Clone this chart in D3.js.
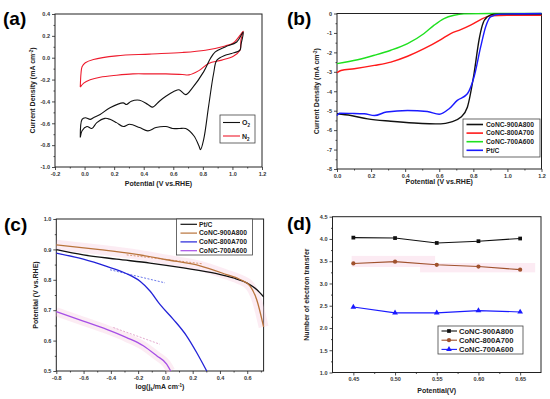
<!DOCTYPE html>
<html>
<head>
<meta charset="utf-8">
<script src="https://cdn.jsdelivr.net/npm/d3@7"></script>
<style>
  body { margin: 0; background: #fff; }
  text { font-family: "Liberation Sans", Arial, sans-serif; }
</style>
</head>
<body>
<svg id="fig" width="550" height="399"></svg>
<script>
// ---- (a) CV in O2 / N2, [potential V, current mA cm-2], closed loops
const cvO2 = [
  [-0.029,-0.730],[-0.017,-0.564],[0.005,-0.549],[0.038,-0.564],[0.060,-0.549],[0.105,-0.519],
  [0.172,-0.458],[0.261,-0.413],[0.283,-0.428],[0.316,-0.398],[0.372,-0.389],[0.428,-0.428],
  [0.461,-0.452],[0.506,-0.398],[0.550,-0.353],[0.606,-0.308],[0.639,-0.293],[0.684,-0.338],
  [0.728,-0.278],[0.806,-0.127],[0.851,-0.007],[0.884,0.054],[0.951,0.099],[1.029,0.144],
  [1.073,0.234],[1.058,0.120],[1.051,0.069],[0.995,0.039],[0.951,0.023],[0.895,-0.022],
  [0.873,-0.142],[0.839,-0.443],[0.806,-0.745],[0.784,-0.841],[0.773,-0.805],[0.739,-0.714],
  [0.684,-0.648],[0.639,-0.648],[0.595,-0.648],[0.550,-0.630],[0.483,-0.639],[0.428,-0.669],
  [0.372,-0.639],[0.305,-0.609],[0.261,-0.630],[0.216,-0.594],[0.172,-0.564],[0.138,-0.555],
  [0.083,-0.594],[0.049,-0.648],[0.016,-0.630],[-0.017,-0.669],[-0.029,-0.730]
];
const cvN2 = [
  [-0.029,-0.269],[-0.024,-0.142],[-0.017,-0.082],[0.005,-0.046],[0.060,-0.016],[0.216,0.017],
  [0.439,0.033],[0.661,0.048],[0.817,0.069],[0.951,0.108],[1.006,0.135],[1.051,0.204],
  [1.073,0.243],[1.058,0.165],[1.051,0.069],[1.006,0.014],[0.928,-0.022],[0.839,-0.052],
  [0.773,-0.118],[0.706,-0.157],[0.661,-0.154],[0.550,-0.148],[0.439,-0.148],[0.327,-0.148],
  [0.216,-0.160],[0.105,-0.178],[0.038,-0.202],[-0.006,-0.232],[-0.029,-0.269]
];

// ---- (b) LSV curves, [potential V, current mA cm-2]
const lsvNames = ["CoNC-900A800", "CoNC-800A700", "CoNC-700A600", "Pt/C"];
const lsv900 = [[0,-5.16],[0.082,-5.25],[0.18,-5.42],[0.316,-5.54],[0.453,-5.63],[0.609,-5.68],
  [0.667,-5.59],[0.726,-5.34],[0.765,-4.82],[0.804,-3.10],[0.833,-1.38],[0.853,-0.60],
  [0.882,-0.17],[0.921,-0.03],[1.2,-0.03]];
const lsv800 = [[0,-3.05],[0.023,-2.93],[0.101,-2.84],[0.219,-2.67],[0.316,-2.50],[0.414,-2.20],
  [0.511,-1.81],[0.609,-1.34],[0.667,-1.03],[0.726,-0.83],[0.784,-0.60],[0.843,-0.31],
  [0.901,-0.12],[0.999,-0.09],[1.2,-0.09]];
const lsv700 = [[0,-2.58],[0.121,-2.38],[0.219,-2.15],[0.316,-1.89],[0.414,-1.55],[0.511,-1.03],
  [0.570,-0.60],[0.628,-0.26],[0.687,-0.09],[0.745,-0.02],[0.9,0],[1.2,0]];
const lsvPt = [[0,-5.25],[0.014,-5.13],[0.082,-5.14],[0.16,-5.16],[0.22,-5.25],[0.29,-5.07],
  [0.414,-4.99],[0.53,-5.04],[0.60,-5.18],[0.658,-4.90],[0.706,-4.47],[0.765,-4.13],
  [0.804,-3.27],[0.843,-1.72],[0.872,-0.69],[0.901,-0.17],[0.96,-0.03],[1.2,0]];

// ---- (c) Tafel plots, [log(jk), potential V]
const tafelNames = ["Pt/C", "CoNC-900A800", "CoNC-800A700", "CoNC-700A600"];
const tafelPt = [[-0.8,0.899],[-0.602,0.882],[-0.357,0.868],[-0.113,0.855],[0.132,0.839],
  [0.376,0.820],[0.498,0.806],[0.596,0.790],[0.669,0.768],[0.72,0.744]];
const tafel900 = [[-0.8,0.915],[-0.48,0.899],[-0.235,0.885],[0.009,0.866],[0.254,0.846],
  [0.449,0.817],[0.547,0.801],[0.621,0.779],[0.669,0.735],[0.72,0.645]];
const tafel800 = [[-0.8,0.888],[-0.602,0.868],[-0.431,0.844],[-0.284,0.820],[-0.186,0.795],
  [-0.113,0.763],[-0.040,0.719],[0.058,0.670],[0.156,0.615],[0.229,0.561],[0.303,0.5]];
const tafel700 = [[-0.8,0.695],[-0.602,0.664],[-0.431,0.637],[-0.284,0.610],[-0.162,0.583],
  [-0.064,0.550],[0.009,0.523],[0.039,0.5]];
const fit900 = [[-0.284,0.882],[0.266,0.853]];
const fit800 = [[-0.406,0.833],[-0.003,0.790]];
const fit700 = [[-0.382,0.643],[-0.04,0.588]];

// ---- (d) electron transfer number
const potentials = [0.45, 0.50, 0.55, 0.60, 0.65];
const n900 = [4.03, 4.02, 3.91, 3.95, 4.01];
const n800 = [3.45, 3.49, 3.42, 3.38, 3.31];
const n700 = [2.47, 2.34, 2.34, 2.39, 2.36];
const nNames = ["CoNC-900A800", "CoNC-800A700", "CoNC-700A600"];

// tick values
const ticksA = { x: d3.range(-0.2, 1.21, 0.2), y: d3.range(-1.0, 0.41, 0.2) };
const ticksB = { x: d3.range(0, 1.21, 0.2), y: d3.range(-8, 0.1, 1) };
const ticksC = { x: d3.range(-0.8, 0.61, 0.2), y: d3.range(0.5, 1.01, 0.1) };
const ticksD = { x: potentials, y: d3.range(1.0, 4.51, 0.5) };

const svg = d3.select("#fig");
const clean = s => s.replace("\u2212", "-");

function panel(o) {
  const g = svg.append("g");
  const x = d3.scaleLinear().domain(o.xDomain).range(o.xRange);
  const y = d3.scaleLinear().domain(o.yDomain).range(o.yRange);

  // minor ticks
  g.append("g").attr("transform", `translate(0,${o.yRange[0]})`)
    .call(d3.axisBottom(x).tickValues(o.xMinor).tickSize(1.5).tickFormat(""));
  g.append("g").attr("transform", `translate(${o.xRange[0]},0)`)
    .call(d3.axisLeft(y).tickValues(o.yMinor).tickSize(1.5).tickFormat(""));
  // major ticks
  g.append("g").attr("transform", `translate(0,${o.yRange[0]})`)
    .call(d3.axisBottom(x).tickValues(o.xTicks).tickSize(3).tickPadding(2)
      .tickFormat(d => clean(d3.format(o.xFmt)(d))));
  g.append("g").attr("transform", `translate(${o.xRange[0]},0)`)
    .call(d3.axisLeft(y).tickValues(o.yTicks).tickSize(3).tickPadding(2)
      .tickFormat(d => clean(d3.format(o.yFmt)(d))));

  g.selectAll(".domain").remove();
  g.selectAll(".tick line").attr("stroke", "#222").attr("stroke-width", 0.8);
  g.selectAll(".tick text").style("font-size", "5.5px").style("font-weight", "bold")
    .attr("fill", "#333");

  // frame
  g.append("rect")
    .attr("x", o.xRange[0]).attr("y", o.yRange[1])
    .attr("width", o.xRange[1] - o.xRange[0])
    .attr("height", o.yRange[0] - o.yRange[1])
    .attr("fill", "none").attr("stroke", "#222").attr("stroke-width", 1);

  // panel label
  svg.append("text").attr("x", o.label[0]).attr("y", o.label[1])
    .style("font-size", "19px").style("font-weight", "bold").text(o.labelText);

  // axis titles
  const xt = svg.append("text")
    .attr("x", (o.xRange[0] + o.xRange[1]) / 2 + (o.xTitleDx || 0)).attr("y", o.xTitleY)
    .attr("text-anchor", "middle").style("font-size", "7px").style("font-weight", "bold")
    .attr("fill", "#222");
  o.xTitle(xt);
  const yc = (o.yRange[0] + o.yRange[1]) / 2;
  const yt = svg.append("text")
    .attr("transform", `translate(${o.yTitleX},${yc}) rotate(-90)`)
    .attr("text-anchor", "middle").style("font-size", "7px").style("font-weight", "bold")
    .attr("fill", "#222");
  o.yTitle(yt);

  return { g, x, y };
}

function legendBox(box, rows, fontSize) {
  svg.append("rect").attr("x", box[0]).attr("y", box[1])
    .attr("width", box[2]).attr("height", box[3])
    .attr("fill", "#fff").attr("stroke", "#444").attr("stroke-width", 0.8);
}

const currentTitle = t => {
  t.append("tspan").text("Current Density (mA cm");
  t.append("tspan").attr("dy", -2.5).style("font-size", "4.5px").text("-2");
  t.append("tspan").attr("dy", 2.5).text(")");
};

// ================= (a) =================
const A = panel({
  xDomain: [-0.2, 1.2], xRange: [55, 262], yDomain: [-1.0, 0.4], yRange: [167, 14],
  xTicks: ticksA.x, yTicks: ticksA.y, xFmt: ".1f", yFmt: ".1f",
  xMinor: d3.range(-0.1, 1.2, 0.2), yMinor: d3.range(-0.9, 0.4, 0.2),
  label: [3, 25], labelText: "(a)",
  xTitleY: 186, xTitle: t => t.text("Potential (V vs.RHE)"),
  yTitleX: 35, yTitle: currentTitle
});
const lineA = d3.line().x(d => A.x(d[0])).y(d => A.y(d[1])).curve(d3.curveCatmullRom.alpha(0.5));
A.g.append("path").datum(cvN2).attr("d", lineA).attr("fill", "none")
  .attr("stroke", "#ee1c2e").attr("stroke-width", 1.1);
A.g.append("path").datum(cvO2).attr("d", lineA).attr("fill", "none")
  .attr("stroke", "#111").attr("stroke-width", 1.1);

legendBox([220, 115, 35, 28]);
[["O", "#111", 122.5], ["N", "#ee1c2e", 136]].forEach(([s, c, yy]) => {
  svg.append("line").attr("x1", 223).attr("x2", 240).attr("y1", yy).attr("y2", yy)
    .attr("stroke", c).attr("stroke-width", 1.1);
  const t = svg.append("text").attr("x", 242).attr("y", yy + 2.5)
    .style("font-size", "7px").style("font-weight", "bold").attr("fill", "#222");
  t.append("tspan").text(s);
  t.append("tspan").attr("dy", 2).style("font-size", "4.5px").text("2");
});

// ================= (b) =================
const B = panel({
  xDomain: [0, 1.2], xRange: [337, 541.5], yDomain: [-8, 0], yRange: [169, 13.5],
  xTicks: ticksB.x, yTicks: ticksB.y, xFmt: ".1f", yFmt: "d",
  xMinor: d3.range(0.1, 1.2, 0.2), yMinor: d3.range(-7.5, 0, 1),
  label: [287, 25], labelText: "(b)",
  xTitleY: 184, xTitle: t => t.text("Potential (V vs.RHE)"),
  yTitleX: 319, yTitle: currentTitle
});
const lineB = d3.line().x(d => B.x(d[0])).y(d => B.y(d[1])).curve(d3.curveMonotoneX);
const colorsB = ["#111", "#ff1a1a", "#1fe01f", "#1a1aff"];
[lsv700, lsv800, lsv900, lsvPt].forEach((s, i) => {
  const c = [colorsB[2], colorsB[1], colorsB[0], colorsB[3]][i];
  B.g.append("path").datum(s).attr("d", lineB).attr("fill", "none")
    .attr("stroke", c).attr("stroke-width", 1.4);
});
legendBox([463, 119, 77, 38]);
lsvNames.forEach((n, i) => {
  const yy = 124.5 + i * 8.6;
  svg.append("line").attr("x1", 466.5).attr("x2", 483).attr("y1", yy).attr("y2", yy)
    .attr("stroke", colorsB[i]).attr("stroke-width", 1.6);
  svg.append("text").attr("x", 486).attr("y", yy + 2.3).style("font-size", "6.7px")
    .style("font-weight", "bold").attr("fill", "#222").text(n);
});

// ================= (c) =================
const C = panel({
  xDomain: [-0.8, 0.72], xRange: [56.3, 263.6], yDomain: [0.5, 1.0], yRange: [371, 219],
  xTicks: ticksC.x, yTicks: ticksC.y, xFmt: ".1f", yFmt: ".1f",
  xMinor: d3.range(-0.7, 0.72, 0.2), yMinor: d3.range(0.55, 1.0, 0.1),
  label: [4, 231], labelText: "(c)",
  xTitleY: 389, xTitleDx: 0, xTitle: t => {
    t.append("tspan").text("log(j");
    t.append("tspan").attr("dy", 1.8).style("font-size", "4.5px").text("k");
    t.append("tspan").attr("dy", -1.8).text("/mA cm");
    t.append("tspan").attr("dy", -2.5).style("font-size", "4.5px").text("-1");
    t.append("tspan").attr("dy", 2.5).text(")");
  },
  yTitleX: 38, yTitle: t => t.text("Potential (V vs.RHE)")
});
const lineC = d3.line().x(d => C.x(d[0])).y(d => C.y(d[1])).curve(d3.curveMonotoneX);
// faint pink haze around the curves
[[tafel900, 10], [tafel700, 9]].forEach(([s, w]) => {
  C.g.append("path").datum(s).attr("d", lineC).attr("fill", "none")
    .attr("stroke", "#f7c8dc").attr("stroke-opacity", 0.35).attr("stroke-width", w);
});
const colorsC = ["#111", "#b8733a", "#2323d8", "#a64fe6"];
[[fit900, "#d9906a"], [fit800, "#5a6ae8"], [fit700, "#e0a0c8"]].forEach(([s, c]) => {
  C.g.append("path").datum(s).attr("d", d3.line().x(d => C.x(d[0])).y(d => C.y(d[1])))
    .attr("fill", "none").attr("stroke", c).attr("stroke-width", 0.9)
    .attr("stroke-dasharray", "2,1.5");
});
[tafelPt, tafel900, tafel800, tafel700].forEach((s, i) => {
  C.g.append("path").datum(s).attr("d", lineC).attr("fill", "none")
    .attr("stroke", colorsC[i]).attr("stroke-width", 1.3);
});
legendBox([176.5, 219, 76, 36]);
tafelNames.forEach((n, i) => {
  const yy = 224.3 + i * 8.8;
  svg.append("line").attr("x1", 180.5).attr("x2", 197).attr("y1", yy).attr("y2", yy)
    .attr("stroke", colorsC[i]).attr("stroke-width", 1.2);
  svg.append("text").attr("x", 199).attr("y", yy + 2.3).style("font-size", "6.7px")
    .style("font-weight", "bold").attr("fill", "#222").text(n);
});

// ================= (d) =================
const D = panel({
  xDomain: [0.425, 0.675], xRange: [332.5, 541], yDomain: [1.0, 4.5], yRange: [372.5, 216.7],
  xTicks: ticksD.x, yTicks: ticksD.y, xFmt: ".2f", yFmt: ".1f",
  xMinor: [0.475, 0.525, 0.575, 0.625], yMinor: d3.range(1.25, 4.5, 0.5),
  label: [287, 230], labelText: "(d)",
  xTitleY: 393, xTitle: t => t.text("Potential(V)"),
  yTitleX: 309, yTitle: t => t.text("Number of electron transfer")
});
// pink haze near the middle series
D.g.append("rect").attr("x", D.x(0.448)).attr("y", D.y(3.62))
  .attr("width", D.x(0.548) - D.x(0.448)).attr("height", D.y(3.37) - D.y(3.62))
  .attr("fill", "#fbe3ee").attr("opacity", 0.7);
D.g.append("rect").attr("x", D.x(0.53)).attr("y", D.y(3.46))
  .attr("width", D.x(0.668) - D.x(0.53)).attr("height", D.y(3.25) - D.y(3.46))
  .attr("fill", "#fbe3ee").attr("opacity", 0.7);

const colorsD = ["#111", "#a0522d", "#1a1aff"];
const symD = [d3.symbolSquare, d3.symbolCircle, d3.symbolTriangle];
const lineD = d3.line().x((d, i) => D.x(potentials[i])).y(d => D.y(d));
[n900, n800, n700].forEach((s, k) => {
  D.g.append("path").datum(s).attr("d", lineD).attr("fill", "none")
    .attr("stroke", colorsD[k]).attr("stroke-width", 1.1);
  D.g.selectAll(null).data(s).enter().append("path")
    .attr("transform", (d, i) => `translate(${D.x(potentials[i])},${D.y(d)})`)
    .attr("d", d3.symbol().type(symD[k]).size(14))
    .attr("fill", colorsD[k]);
});
legendBox([438, 326, 85, 28]);
nNames.forEach((n, k) => {
  const yy = 331 + k * 9.2;
  svg.append("line").attr("x1", 441.5).attr("x2", 457).attr("y1", yy).attr("y2", yy)
    .attr("stroke", colorsD[k]).attr("stroke-width", 1.1);
  svg.append("path").attr("transform", `translate(449,${yy})`)
    .attr("d", d3.symbol().type(symD[k]).size(14)).attr("fill", colorsD[k]);
  svg.append("text").attr("x", 459).attr("y", yy + 2.6).style("font-size", "7.6px")
    .style("font-weight", "bold").attr("fill", "#222").text(n);
});
</script>
</body>
</html>
